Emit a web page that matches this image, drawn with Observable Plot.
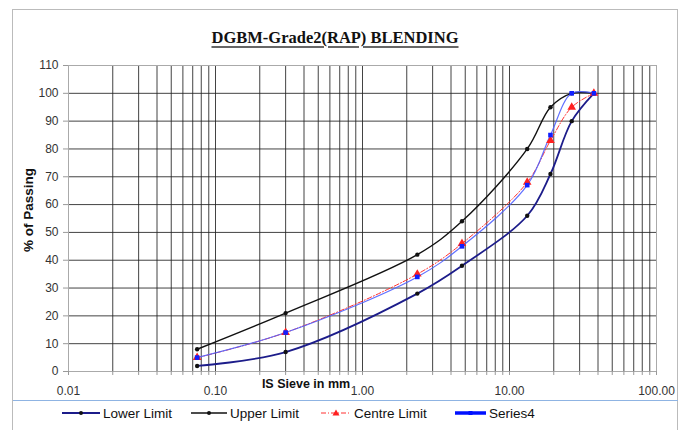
<!DOCTYPE html>
<html>
<head>
<meta charset="utf-8">
<script src="https://cdn.jsdelivr.net/npm/d3@7"></script>
<script src="https://cdn.jsdelivr.net/npm/@observablehq/plot@0.6"></script>
<style>
  html, body { margin: 0; padding: 0; background: #fff; width: 688px; height: 430px; overflow: hidden; }
  #wrap { position: relative; width: 688px; height: 430px; font-family: "Liberation Sans", Arial, sans-serif; }
  #border { position: absolute; left: 12px; top: 9px; width: 666px; height: 440px; border: 1px solid #bbb; box-sizing: border-box; }
  #title { position: absolute; left: 0; width: 670px; top: 28px; text-align: center; font-family: "Liberation Serif", "Times New Roman", serif; font-weight: bold; font-size: 16.5px; color: #111; }
  #title span { text-decoration: underline; text-decoration-thickness: 2px; text-decoration-color: #666; text-underline-offset: 3px; }
  #chart { position: absolute; left: 0; top: 55px; }
  #ylabel { position: absolute; left: 28px; top: 210px; transform: translate(-50%, -50%) rotate(-90deg); font-weight: bold; font-size: 13.5px; color: #111; white-space: nowrap; }
  #xlabel { position: absolute; left: 306px; top: 384px; transform: translate(-50%, -50%); font-weight: bold; font-size: 12.5px; color: #111; white-space: nowrap; }
  #divider { position: absolute; left: 13px; width: 665px; top: 400px; height: 0; border-top: 1px solid #8fb4e3; }
  .leg { position: absolute; top: 404px; height: 18px; display: flex; align-items: center; font-size: 13.5px; color: #111; white-space: nowrap; }
  .leg svg { margin-right: 3px; }
</style>
</head>
<body>
<div id="wrap">
  <div id="border"></div>
  <div id="title"><span>DGBM-Grade2(RAP) BLENDING</span></div>
  <div id="chart"></div>
  <div id="ylabel">% of Passing</div>
  <div id="xlabel">IS Sieve in mm</div>
  <div id="divider"></div>
  <div id="legend"></div>
</div>
<script>
// ---- data ----
const sieves = [0.075, 0.3, 2.36, 4.75, 13.2, 19, 26.5, 37.5];
const lowerLimit = [2, 7, 28, 38, 56, 71, 90, 100];
const upperLimit = [8, 21, 42, 54, 80, 95, 100, 100];
const centreLimit = [5, 14, 35, 46, 68, 83, 95, 100];
const series4 = [5, 14, 34, 45, 67, 85, 100, 100];
const xTickValues = [0.01, 0.1, 1, 10, 100];
const yTickValues = [0, 10, 20, 30, 40, 50, 60, 70, 80, 90, 100, 110];

const seriesNames = ["Lower Limit", "Upper Limit", "Centre Limit", "Series4"];
const seriesValues = [lowerLimit, upperLimit, centreLimit, series4];

// minor log ticks
const minorTicks = [];
for (let d = -2; d <= 1; d++) for (let k = 1; k <= 9; k++) minorTicks.push(+(k * Math.pow(10, d)).toPrecision(3));
minorTicks.push(100);

const rows = s => sieves.map((x, i) => ({x, y: seriesValues[s][i], name: seriesNames[s]}));
const lower = rows(0), upper = rows(1), centre = rows(2), s4 = rows(3);

const chart = Plot.plot({
  width: 688,
  height: 345,
  marginLeft: 68,
  marginRight: 32,
  marginTop: 10,
  marginBottom: 29,
  style: {fontFamily: "'Liberation Sans', Arial, sans-serif", fontSize: "12px", color: "#333", background: "transparent"},
  x: {type: "log", domain: [0.01, 100]},
  y: {domain: [0, 110]},
  marks: [
    Plot.gridX(minorTicks, {stroke: "#222", strokeOpacity: 0.85, strokeWidth: 1}),
    Plot.gridY(yTickValues, {stroke: "#222", strokeOpacity: 0.85, strokeWidth: 1}),
    Plot.frame({stroke: "#aaa"}),
    Plot.axisX(minorTicks, {tickSize: 4, text: null, stroke: "#999", label: null}),
    Plot.axisX(xTickValues, {tickSize: 0, tickPadding: 15, fontSize: 12, tickFormat: d3.format(".2f"), label: null, fill: "#333"}),
    Plot.axisY(yTickValues, {tickSize: 5, tickPadding: 5, fontSize: 12, stroke: "#999", label: null, fill: "#333"}),
    Plot.line(upper, {x: "x", y: "y", stroke: "#111", strokeWidth: 1.4, curve: "catmull-rom"}),
    Plot.line(lower, {x: "x", y: "y", stroke: "#1c1c8a", strokeWidth: 1.8, curve: "catmull-rom"}),
    Plot.line(centre, {x: "x", y: "y", stroke: "#ff3030", strokeWidth: 1, strokeDasharray: "5,2,1,2", curve: "catmull-rom"}),
    Plot.line(s4, {x: "x", y: "y", stroke: "#5060ff", strokeWidth: 1.2, strokeOpacity: 0.9, curve: "catmull-rom"}),
    Plot.dot(upper, {x: "x", y: "y", r: 2.2, fill: "#111"}),
    Plot.dot(lower, {x: "x", y: "y", r: 2.2, fill: "#111"}),
    Plot.dot(centre, {x: "x", y: "y", r: 3.2, symbol: "triangle", fill: "#ff2020"}),
    Plot.dot(s4, {x: "x", y: "y", r: 2.6, symbol: "square", fill: "#1020ff"})
  ]
});
document.getElementById("chart").appendChild(chart);

// ---- legend ----
const legendItems = [
  {name: seriesNames[0], left: 62, w: 38, stroke: "#1c1c8a", sw: 1.8, dash: null, marker: "dot", mfill: "#111"},
  {name: seriesNames[1], left: 191, w: 36, stroke: "#111", sw: 1.4, dash: null, marker: "dot", mfill: "#111"},
  {name: seriesNames[2], left: 321, w: 30, stroke: "#ff3030", sw: 1, dash: "5,2,1,2", marker: "tri", mfill: "#ff2020"},
  {name: seriesNames[3], left: 455, w: 31, stroke: "#0010ff", sw: 3.5, dash: null, marker: "sq", mfill: "#0010ff"}
];
const leg = document.getElementById("legend");
for (const it of legendItems) {
  const div = document.createElement("div");
  div.className = "leg";
  div.style.left = it.left + "px";
  const c = it.w / 2;
  let m = "";
  if (it.marker === "dot") m = `<circle cx="${c}" cy="9" r="2" fill="${it.mfill}"/>`;
  if (it.marker === "tri") m = `<path d="M${c},5.5 L${c+3.5},11.5 L${c-3.5},11.5 Z" fill="${it.mfill}"/>`;
  if (it.marker === "sq") m = `<rect x="${c-2}" y="7" width="4" height="4" fill="${it.mfill}"/>`;
  div.innerHTML = `<svg width="${it.w}" height="18"><line x1="0" x2="${it.w}" y1="9" y2="9" stroke="${it.stroke}" stroke-width="${it.sw}" ${it.dash ? `stroke-dasharray="${it.dash}"` : ""}/>${m}</svg><span>${it.name}</span>`;
  leg.appendChild(div);
}
</script>
</body>
</html>
